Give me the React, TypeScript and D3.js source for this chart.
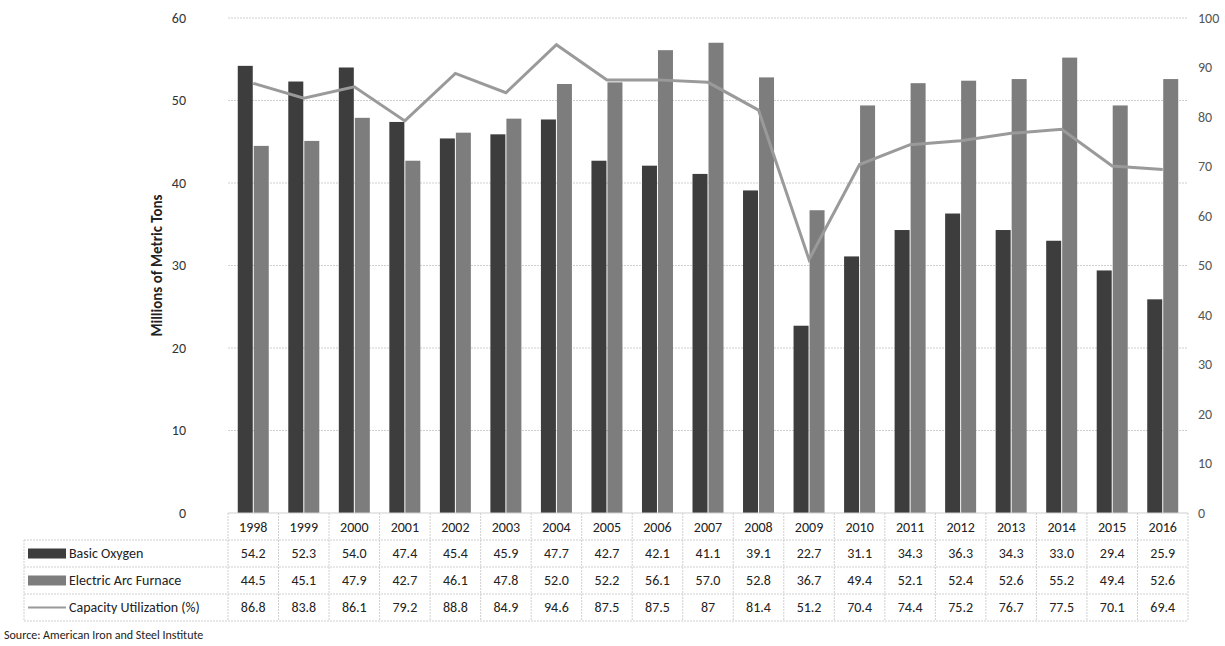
import React from "react";
import * as d3 from "d3";

const years = ["1998","1999","2000","2001","2002","2003","2004","2005","2006","2007","2008","2009","2010","2011","2012","2013","2014","2015","2016"];
const basicOxygen = [54.2,52.3,54.0,47.4,45.4,45.9,47.7,42.7,42.1,41.1,39.1,22.7,31.1,34.3,36.3,34.3,33.0,29.4,25.9];
const eaf = [44.5,45.1,47.9,42.7,46.1,47.8,52.0,52.2,56.1,57.0,52.8,36.7,49.4,52.1,52.4,52.6,55.2,49.4,52.6];
const capUtil = [86.8,83.8,86.1,79.2,88.8,84.9,94.6,87.5,87.5,87,81.4,51.2,70.4,74.4,75.2,76.7,77.5,70.1,69.4];
const capLabels = ["86.8","83.8","86.1","79.2","88.8","84.9","94.6","87.5","87.5","87","81.4","51.2","70.4","74.4","75.2","76.7","77.5","70.1","69.4"];
const leftTicks = [0,10,20,30,40,50,60];
const rightTicks = [0,10,20,30,40,50,60,70,80,90,100];

const C_BO = "#3d3d3d", C_EAF = "#7d7d7d", C_LINE = "#9a9a9a";
const font = "Calibri, Carlito, 'Open Sans', Arial, sans-serif";

export default function App() {
  const x0 = 228, x1 = 1188, yTop = 18, yBot = 513;
  const x = d3.scaleBand<string>().domain(years).range([x0, x1]);
  const yL = d3.scaleLinear().domain([0, 60]).range([yBot, yTop]);
  const yR = d3.scaleLinear().domain([0, 100]).range([yBot, yTop]);
  const bw = x.bandwidth();
  const barW = 15;
  const line = d3.line<number>().x((_, i) => x(years[i])! + bw / 2).y(d => yR(d));
  const rows = [
    { y: 540, h: 27, label: "Basic Oxygen", vals: basicOxygen.map(v => v.toFixed(1)), kind: "bo" },
    { y: 567, h: 27, label: "Electric Arc Furnace", vals: eaf.map(v => v.toFixed(1)), kind: "eaf" },
    { y: 594, h: 27, label: "Capacity Utilization (%)", vals: capLabels, kind: "line" },
  ];
  const grid = "#cfcfcf";
  const fs = 14;
  return (
    <svg width={1225} height={646} style={{ position: "absolute", left: 0, top: 0, background: "#fff" }} fontFamily={font}>
      {leftTicks.map(t => (
        <g key={t}>
          {t > 0 && <line x1={x0} x2={x1} y1={yL(t)} y2={yL(t)} stroke={grid} strokeDasharray="2,1" />}
          <text x={186} y={yL(t)} dy="0.35em" textAnchor="end" fontSize={fs} fill="#333">{t}</text>
        </g>
      ))}
      {rightTicks.map(t => (
        <text key={t} x={1198} y={yR(t)} dy="0.35em" fontSize={fs} fill="#555">{t}</text>
      ))}
      <text transform={`translate(162,${(yTop + yBot) / 2}) rotate(-90)`} textAnchor="middle" fontSize={15} fontWeight="bold" fill="#222">Millions of Metric Tons</text>
      {years.map((yr, i) => {
        const cx = x(yr)! + bw / 2;
        return (
          <g key={yr}>
            <rect x={cx - barW - 0.5} y={yL(basicOxygen[i])} width={barW} height={yBot - yL(basicOxygen[i])} fill={C_BO} />
            <rect x={cx + 0.5} y={yL(eaf[i])} width={barW} height={yBot - yL(eaf[i])} fill={C_EAF} />
          </g>
        );
      })}
      <path d={line(capUtil)!} fill="none" stroke={C_LINE} strokeWidth={3} />
      <line x1={x0} x2={x1} y1={yBot} y2={yBot} stroke={grid} />
      {years.map((yr, i) => (
        <g key={yr}>
          <line x1={x(yr)!} x2={x(yr)!} y1={yBot} y2={621} stroke={grid} strokeDasharray="2,1" />
          <text x={x(yr)! + bw / 2} y={527} dy="0.35em" textAnchor="middle" fontSize={fs} fill="#222">{yr}</text>
          {rows.map(r => (
            <text key={r.kind} x={x(yr)! + bw / 2} y={r.y + r.h / 2} dy="0.35em" textAnchor="middle" fontSize={fs} fill="#222">{r.vals[i]}</text>
          ))}
        </g>
      ))}
      <line x1={x1} x2={x1} y1={yBot} y2={621} stroke={grid} strokeDasharray="2,1" />
      <line x1={24} x2={24} y1={540} y2={621} stroke={grid} strokeDasharray="2,1" />
      {[540, 567, 594, 621].map(yy => (
        <line key={yy} x1={24} x2={x1} y1={yy} y2={yy} stroke={grid} strokeDasharray="2,1" />
      ))}
      {rows.map(r => (
        <g key={r.kind}>
          {r.kind === "line"
            ? <line x1={28} x2={66} y1={r.y + r.h / 2} y2={r.y + r.h / 2} stroke={C_LINE} strokeWidth={2} />
            : <rect x={28} y={r.y + r.h / 2 - 5} width={38} height={10} fill={r.kind === "bo" ? C_BO : C_EAF} />}
          <text x={69} y={r.y + r.h / 2} dy="0.35em" fontSize={fs} fill="#222">{r.label}</text>
        </g>
      ))}
      <text x={4} y={639} fontSize={12} fill="#222">Source: American Iron and Steel  Institute</text>
    </svg>
  );
}
